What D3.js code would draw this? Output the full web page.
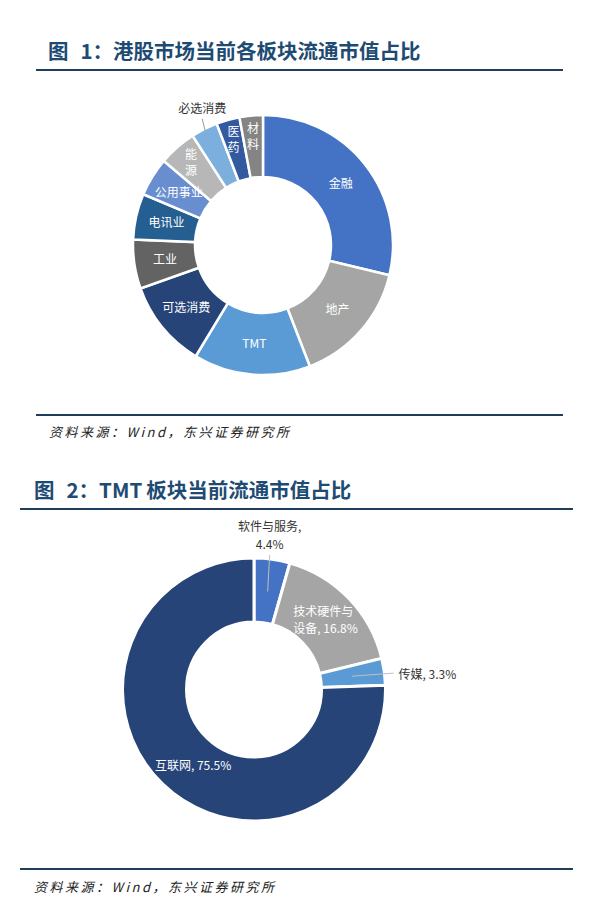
<!DOCTYPE html>
<html>
<head>
<meta charset="utf-8">
<script src="https://cdn.jsdelivr.net/npm/d3@7"></script>
<style>
  html, body { margin: 0; padding: 0; background: #fff; }
  text { font-family: "Noto Sans CJK SC", "Noto Sans", sans-serif; }
</style>
</head>
<body>
<script>
// 图 1：港股市场各板块流通市值占比（%）
var v_Sectors    = ["金融", "地产", "TMT", "可选消费", "工业", "电讯业", "公用事业", "能源", "必选消费", "医药", "材料"];
var v_Shares     = [28.7, 15.4, 14.5, 10.9, 6.1, 5.7, 4.8, 4.7, 3.3, 2.9, 2.9];
var v_Colors1    = ["#4472c4", "#a5a5a5", "#5b9bd5", "#264478", "#636363", "#255e91", "#698ed0", "#b7b7b7", "#7cafdd", "#335aa1", "#848484"];
var v_Vertical   = ["能源", "医药", "材料"];
var v_Outside    = ["必选消费"];

// 图 2：TMT 板块流通市值占比（%）
var v_TmtParts   = ["软件与服务", "技术硬件与设备", "传媒", "互联网"];
var v_TmtShares  = [4.4, 16.8, 3.3, 75.5];
var v_Colors2    = ["#4472c4", "#a5a5a5", "#5b9bd5", "#264478"];

var v_Titles     = ["图 1：港股市场当前各板块流通市值占比", "图 2：TMT 板块当前流通市值占比"];
var v_Source     = "资料来源：Wind，东兴证券研究所";

var v_RuleColor  = "#1f3d5c";
var v_TitleColor = "#1e4b73";

var v_SVG = d3.select("body").append("svg")
    .attr("width", 592)
    .attr("height", 914);

// 标题、分隔线、资料来源
function drawFrame(i_Title, i_TitleX, i_TitleY, i_RuleX1, i_RuleX2, i_RuleTop, i_RuleBottom, i_SourceX, i_SourceY)
{
    var v_Parts = i_Title.split(" ");
    var v_Text  = v_SVG.append("text")
        .attr("x", i_TitleX)
        .attr("y", i_TitleY)
        .attr("font-size", 20.5)
        .attr("font-weight", "bold")
        .attr("fill", v_TitleColor);

    v_Text.append("tspan").text(v_Parts[0]);
    v_Text.append("tspan").attr("dx", 12).text(v_Parts[1]);
    if ( v_Parts.length > 2 )
    {
        v_Text.append("tspan").attr("dx", 4).text(v_Parts.slice(2).join(" "));
    }

    [i_RuleTop, i_RuleBottom].forEach(function (y) {
        v_SVG.append("line")
            .attr("x1", i_RuleX1).attr("x2", i_RuleX2)
            .attr("y1", y).attr("y2", y)
            .attr("stroke", v_RuleColor)
            .attr("stroke-width", 2);
    });

    v_SVG.append("text")
        .attr("x", i_SourceX)
        .attr("y", i_SourceY)
        .attr("font-size", 13)
        .attr("font-style", "italic")
        .attr("letter-spacing", 2.5)
        .attr("fill", "#222")
        .text(v_Source);
}

drawFrame(v_Titles[0], 48, 59, 36, 563, 70, 415, 49, 437);
drawFrame(v_Titles[1], 34, 498, 20, 573, 509, 869, 34, 892);


// ---------------- 图 1 ----------------
var v_Pie = d3.pie().sort(null).value(function (d) { return d; });

var v_C1 = { x: 263, y: 245, r0: 68, r1: 130 };
var v_Arc1 = d3.arc().innerRadius(v_C1.r0).outerRadius(v_C1.r1);
var v_G1 = v_SVG.append("g").attr("transform", "translate(" + v_C1.x + "," + v_C1.y + ")");
var v_Arcs1 = v_Pie(v_Shares);

v_G1.selectAll("path")
    .data(v_Arcs1)
    .enter().append("path")
    .attr("d", v_Arc1)
    .attr("fill", function (d, i) { return v_Colors1[i]; })
    .attr("stroke", "#fff")
    .attr("stroke-width", 2.5);

v_Arcs1.forEach(function (d, i)
{
    var v_Name = v_Sectors[i];
    var v_Mid  = (d.startAngle + d.endAngle) / 2;

    if ( v_Outside.indexOf(v_Name) >= 0 )
    {
        var p1 = d3.arc().innerRadius(v_C1.r1 - 2).outerRadius(v_C1.r1 - 2).centroid(d);
        var p2 = [p1[0] - 3, p1[1] - 12];
        v_G1.append("line")
            .attr("x1", p1[0]).attr("y1", p1[1])
            .attr("x2", p2[0]).attr("y2", p2[1])
            .attr("stroke", "#999").attr("stroke-width", 1);
        v_G1.append("text")
            .attr("x", p2[0])
            .attr("y", p2[1] - 6)
            .attr("text-anchor", "middle")
            .attr("font-size", 12)
            .attr("fill", "#333")
            .text(v_Name);
        return;
    }

    if ( v_Vertical.indexOf(v_Name) >= 0 )
    {
        var r  = 109;
        var cx = r * Math.sin(v_Mid);
        var cy = -r * Math.cos(v_Mid);
        var chars = v_Name.split("");
        chars.forEach(function (c, k) {
            v_G1.append("text")
                .attr("x", cx)
                .attr("y", cy + (k - (chars.length - 1) / 2) * 16)
                .attr("dy", "0.35em")
                .attr("text-anchor", "middle")
                .attr("font-size", 12)
                .attr("fill", "#fff")
                .text(c);
        });
        return;
    }

    var c = d3.arc().innerRadius(99).outerRadius(99).centroid(d);
    v_G1.append("text")
        .attr("x", c[0])
        .attr("y", c[1])
        .attr("dy", "0.35em")
        .attr("text-anchor", "middle")
        .attr("font-size", 12)
        .attr("fill", "#fff")
        .text(v_Name);
});


// ---------------- 图 2 ----------------
var v_C2 = { x: 254, y: 689.5, r0: 67.5, r1: 131.5 };
var v_Arc2 = d3.arc().innerRadius(v_C2.r0).outerRadius(v_C2.r1);
var v_Mid2 = d3.arc().innerRadius(99).outerRadius(99);
var v_G2 = v_SVG.append("g").attr("transform", "translate(" + v_C2.x + "," + v_C2.y + ")");
var v_Arcs2 = v_Pie(v_TmtShares);

v_G2.selectAll("path")
    .data(v_Arcs2)
    .enter().append("path")
    .attr("d", v_Arc2)
    .attr("fill", function (d, i) { return v_Colors2[i]; })
    .attr("stroke", "#fff")
    .attr("stroke-width", 3);

function pctText(i) { return v_TmtShares[i].toFixed(1) + "%"; }

// 软件与服务：外部标签 + 引线
(function ()
{
    var c = v_Mid2.centroid(v_Arcs2[0]);
    var top = -v_C2.r1;
    v_G2.append("line")
        .attr("x1", c[0]).attr("y1", c[1])
        .attr("x2", c[0] + 2).attr("y2", top - 3)
        .attr("stroke", "#bfbfbf").attr("stroke-width", 1);
    v_G2.append("text")
        .attr("x", c[0] + 2).attr("y", top - 31)
        .attr("dy", "0.35em")
        .attr("text-anchor", "middle")
        .attr("font-size", 12).attr("fill", "#333")
        .text(v_TmtParts[0] + ",");
    v_G2.append("text")
        .attr("x", c[0] + 2).attr("y", top - 13)
        .attr("dy", "0.35em")
        .attr("text-anchor", "middle")
        .attr("font-size", 12).attr("fill", "#333")
        .text(pctText(0));
})();

// 技术硬件与设备：两行内部标签
(function ()
{
    var c = v_Mid2.centroid(v_Arcs2[1]);
    var x0 = c[0] - 32;
    v_G2.append("text")
        .attr("x", x0).attr("y", c[1] - 9)
        .attr("dy", "0.35em")
        .attr("font-size", 12).attr("fill", "#fff")
        .text(v_TmtParts[1].slice(0, 5));
    v_G2.append("text")
        .attr("x", x0).attr("y", c[1] + 8)
        .attr("dy", "0.35em")
        .attr("font-size", 12).attr("fill", "#fff")
        .text(v_TmtParts[1].slice(5) + ", " + pctText(1));
})();

// 传媒：右侧外部标签 + 引线
(function ()
{
    var c = v_Mid2.centroid(v_Arcs2[2]);
    var xEnd = v_C2.r1 + 8;
    v_G2.append("line")
        .attr("x1", c[0]).attr("y1", c[1])
        .attr("x2", xEnd).attr("y2", c[1] - 3)
        .attr("stroke", "#bfbfbf").attr("stroke-width", 1);
    v_G2.append("text")
        .attr("x", xEnd + 5).attr("y", c[1] - 1)
        .attr("dy", "0.35em")
        .attr("font-size", 12).attr("fill", "#333")
        .text(v_TmtParts[2] + ", " + pctText(2));
})();

// 互联网：内部标签
(function ()
{
    var c = v_Mid2.centroid(v_Arcs2[3]);
    v_G2.append("text")
        .attr("x", c[0] + 8).attr("y", c[1] + 5)
        .attr("dy", "0.35em")
        .attr("text-anchor", "middle")
        .attr("font-size", 12).attr("fill", "#fff")
        .text(v_TmtParts[3] + ", " + pctText(3));
})();
</script>
</body>
</html>
